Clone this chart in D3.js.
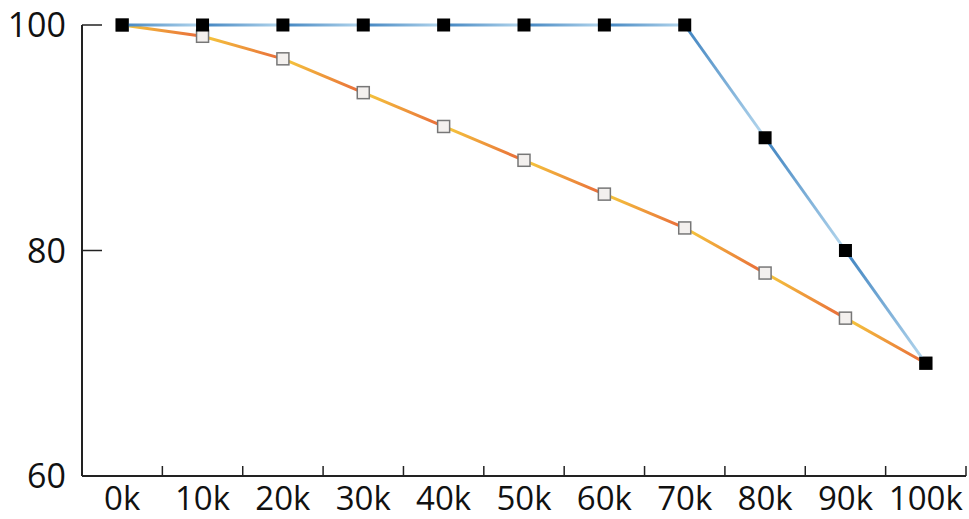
<!DOCTYPE html>
<html>
<head>
<meta charset="utf-8">
<script src="https://cdn.jsdelivr.net/npm/d3@7"></script>
<style>
  body { margin: 0; background: #fff; }
  text { font-family: "Open Sans", "Noto Sans", sans-serif; fill: #111; }
</style>
</head>
<body>
<div id="chart"></div>
<script>
// chart data
var categories = ['0k','10k','20k','30k','40k','50k','60k','70k','80k','90k','100k'];
var blueValues = [100,100,100,100,100,100,100,100,90,80,70];
var orangeValues = [100,99,97,94,91,88,85,82,78,74,70];
var yTicks = [60,80,100];

var w = 969, h = 519;
var svg = d3.select('#chart').append('svg')
            .attr('width', w)
            .attr('height', h);

var pLeft = 82, pRight = 966, pTop = 25, pBottom = 476;

var x = d3.scaleBand().domain(categories).range([pLeft, pRight]).padding(0);
var y = d3.scaleLinear().domain([60, 100]).range([pBottom, pTop]);
var cx = function(c) { return x(c) + x.bandwidth() / 2; };

// axes lines
svg.append('line').attr('x1', pLeft).attr('x2', pLeft).attr('y1', pTop).attr('y2', pBottom)
   .attr('stroke', '#222').attr('stroke-width', 2);
svg.append('line').attr('x1', pLeft).attr('x2', pRight).attr('y1', pBottom).attr('y2', pBottom)
   .attr('stroke', '#222').attr('stroke-width', 2);

// x ticks at band edges, labels in band centers
svg.selectAll('.xtick').data(categories).enter().append('line')
   .attr('x1', function(d) { return x(d) + x.bandwidth(); })
   .attr('x2', function(d) { return x(d) + x.bandwidth(); })
   .attr('y1', pBottom).attr('y2', pBottom - 10)
   .attr('stroke', '#222').attr('stroke-width', 1.5);
svg.selectAll('.xlab').data(categories).enter().append('text')
   .attr('x', cx).attr('y', 510)
   .attr('text-anchor', 'middle')
   .attr('font-size', '33px')
   .text(function(d) { return d; });

// y ticks
svg.selectAll('.ytick').data(yTicks.filter(function(d) { return d > 60; })).enter().append('line')
   .attr('x1', pLeft).attr('x2', pLeft + 20)
   .attr('y1', y).attr('y2', y)
   .attr('stroke', '#222').attr('stroke-width', 1.5);
svg.selectAll('.ylab').data(yTicks).enter().append('text')
   .attr('x', 66).attr('y', function(d) { return y(d) + 12; })
   .attr('text-anchor', 'end')
   .attr('font-size', '34px')
   .text(function(d) { return d; });

// gradient segments
var defs = svg.append('defs');
function drawSeries(values, name, c0, c1) {
  var pts = values.map(function(v, i) { return [cx(categories[i]), y(v)]; });
  for (var i = 0; i < pts.length - 1; i++) {
    var id = 'g-' + name + i;
    var gr = defs.append('linearGradient').attr('id', id)
                 .attr('gradientUnits', 'userSpaceOnUse')
                 .attr('x1', pts[i][0]).attr('y1', pts[i][1])
                 .attr('x2', pts[i + 1][0]).attr('y2', pts[i + 1][1]);
    gr.append('stop').attr('offset', '0%').attr('stop-color', c0);
    gr.append('stop').attr('offset', '100%').attr('stop-color', c1);
    svg.append('line')
       .attr('x1', pts[i][0]).attr('y1', pts[i][1])
       .attr('x2', pts[i + 1][0]).attr('y2', pts[i + 1][1])
       .attr('stroke', 'url(#' + id + ')').attr('stroke-width', 3);
  }
  return pts;
}

var orangePts = drawSeries(orangeValues, 'o', '#f5c93c', '#e8693a');
svg.selectAll('.omark').data(orangePts).enter().append('rect')
   .attr('x', function(d) { return d[0] - 6; })
   .attr('y', function(d) { return d[1] - 6; })
   .attr('width', 12).attr('height', 12)
   .attr('fill', '#f3f0ee').attr('stroke', '#777').attr('stroke-width', 1.5);

var bluePts = drawSeries(blueValues, 'b', '#3f83c0', '#b6d8ee');
svg.selectAll('.bmark').data(bluePts).enter().append('rect')
   .attr('x', function(d) { return d[0] - 6.5; })
   .attr('y', function(d) { return d[1] - 6.5; })
   .attr('width', 13).attr('height', 13)
   .attr('fill', '#000');
</script>
</body>
</html>
